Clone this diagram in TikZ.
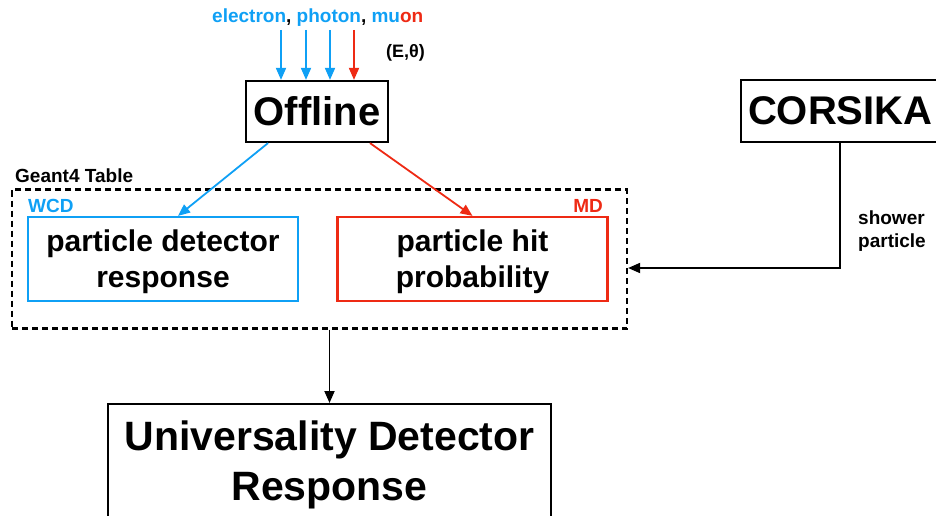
\documentclass[tikz,border=0pt]{standalone}
\usepackage{fontspec}
\setmainfont{Liberation Sans}
\usetikzlibrary{arrows.meta,positioning}
\definecolor{Ink}{HTML}{000000}
\definecolor{Sky}{HTML}{0FA0F5}
\definecolor{Brick}{HTML}{EE2A14}
\tikzset{
  bigbox/.style={rectangle,draw=Ink,line width=2.2pt,font=\fontsize{40}{48}\selectfont\bfseries,inner sep=0pt},
  subbox/.style={rectangle,line width=2.2pt,font=\fontsize{30}{36}\selectfont\bfseries,align=center,text depth=0pt,minimum width=270pt,minimum height=84pt},
  lab/.style={font=\fontsize{19}{23}\selectfont\bfseries,inner sep=0pt},
  feed/.style={line width=1.8pt,-{Triangle[length=12pt,width=10pt]}},
  tbl/.style={rectangle,draw=Ink,line width=2.2pt,dash pattern=on 6pt off 4pt},
}
\begin{document}
\begin{tikzpicture}[x=1pt,y=-1pt]
\useasboundingbox (0,0) rectangle (936,516);
% -inputs-
\node[lab,anchor=west] (ptc) at (212,18) {\textcolor{Sky}{electron}, \textcolor{Sky}{photon}, \textcolor{Sky}{mu}\textcolor{Brick}{on}};
\node[lab,anchor=west,font=\fontsize{18}{22}\selectfont\bfseries] (eth) at (386,53) {(E,θ)};
\node[bigbox,minimum width=142pt,minimum height=61pt] (off) at (317,111.5) {Offline};
\coordinate (e1) at (281,30); \coordinate (e2) at (306,30); \coordinate (e3) at (330,30);
\coordinate (m1) at (354,30);
\foreach \c in {e1,e2,e3} \draw[feed,color=Sky] (\c) -- (\c |- off.north);
\draw[feed,color=Brick] (m1) -- (m1 |- off.north);
% -table-
\node[tbl,minimum width=615pt,minimum height=139pt] (tab) at (319.5,259) {};
\node[lab,anchor=west] (g4) at (15,176) {Geant4 Table};
\node[subbox,draw=Sky] (wcd) at (163,259) {particle detector\\response};
\node[subbox,draw=Brick] (md) at (472.5,259) {particle hit\\probability};
\node[lab,text=Sky,anchor=west] (wl) at (28,206) {WCD};
\node[lab,text=Brick,anchor=east] (ml) at (603,206) {MD};
\draw[feed,color=Sky] ([xshift=-49pt]off.south) -- ([xshift=15pt]wcd.north);
\draw[feed,color=Brick] ([xshift=53pt]off.south) -- (md.north);
% -corsika-
\node[bigbox,anchor=west,minimum height=62pt,inner xsep=7pt] (cors) at (740,111) {CORSIKA};
\coordinate (hit) at ([yshift=-9pt]tab.east);
\draw[feed] (cors.south) |- (hit);
\node[lab,anchor=west,align=left] (shw) at (858,231.5) {shower\\particle};
% -result-
\node[bigbox,anchor=north,align=center,minimum width=443pt,inner ysep=17pt,text depth=25pt,font=\fontsize{41}{50}\selectfont\bfseries] (udr) at (329.5,403) {Universality Detector\\Response};
\draw[feed] (tab.south -| udr.north) -- (udr.north);
\end{tikzpicture}
\end{document}
